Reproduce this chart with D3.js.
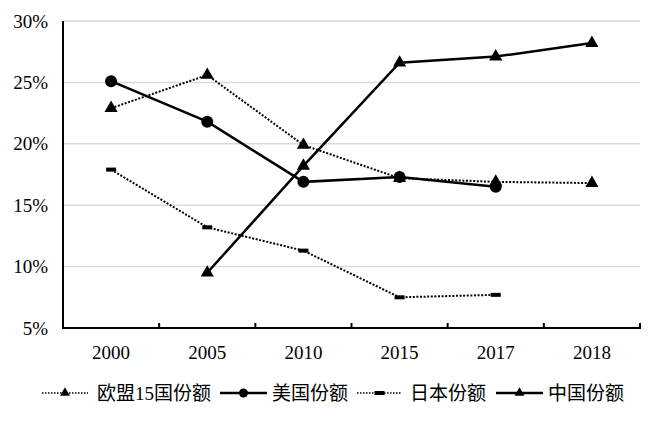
<!DOCTYPE html>
<html><head><meta charset="utf-8">
<script src="https://cdn.jsdelivr.net/npm/d3@7"></script>
<style>body{margin:0;background:#fff}svg{display:block}</style>
</head><body>
<svg id="c" width="660" height="423"></svg>
<script>
const categories = ["2000","2005","2010","2015","2017","2018"];
const yTicks = [0.05,0.10,0.15,0.20,0.25,0.30];
const eu15 = [22.9, 25.6, 19.9, 17.2, 16.9, 16.8];
const usa = [25.1, 21.8, 16.9, 17.3, 16.5, null];
const japan = [17.9, 13.2, 11.3, 7.5, 7.7, null];
const china = [null, 9.5, 18.2, 26.6, 27.1, 28.2];
const seriesNames = ["欧盟15国份额","美国份额","日本份额","中国份额"];

const series = [
  {name: seriesNames[0], values: eu15, dash: "2,1.6", width: 2, marker: "tri"},
  {name: seriesNames[1], values: usa, dash: null, width: 2.5, marker: "circle"},
  {name: seriesNames[2], values: japan, dash: "2,1.6", width: 2, marker: "dash"},
  {name: seriesNames[3], values: china, dash: null, width: 2.5, marker: "tri"}
];

const svg = d3.select("#c");
const L = 63, R = 640, T = 21, B = 328;
const x = d3.scaleBand().domain(categories).range([L, R]);
const y = d3.scaleLinear().domain([0.05, 0.30]).range([B, T]);

// gridlines
svg.append("g").selectAll("line").data(yTicks.slice(1)).join("line")
  .attr("x1", L).attr("x2", R)
  .attr("y1", d => y(d)).attr("y2", d => y(d))
  .attr("stroke", "#d9d9d9").attr("stroke-width", 1.5);

// y labels
svg.append("g").selectAll("text").data(yTicks).join("text")
  .attr("x", 48).attr("y", d => y(d))
  .attr("dy", "0.35em").attr("text-anchor", "end")
  .attr("font-family", "Liberation Serif").attr("font-size", 19)
  .attr("fill", "#000")
  .text(d => d3.format(".0%")(d));

// x axis
const xAxis = d3.axisBottom(x).tickSize(0).tickFormat(d => d);
const gx = svg.append("g").attr("transform", `translate(0,${B})`).call(xAxis);
gx.select(".domain").remove();
gx.selectAll("text").attr("font-family", "Liberation Serif").attr("font-size", 19)
  .attr("fill", "#000").attr("y", 31).attr("dy", "0");
// bottom tick marks between categories (pointing up)
const bounds = categories.map(c => x(c) + x.bandwidth());
svg.append("g").selectAll("line").data(bounds).join("line")
  .attr("x1", d => d).attr("x2", d => d).attr("y1", B).attr("y2", B - 5)
  .attr("stroke", "#000").attr("stroke-width", 2);
// axes lines
svg.append("line").attr("x1", L).attr("x2", L).attr("y1", T).attr("y2", B + 1)
  .attr("stroke", "#000").attr("stroke-width", 2);
svg.append("line").attr("x1", L - 1).attr("x2", R + 1).attr("y1", B).attr("y2", B)
  .attr("stroke", "#000").attr("stroke-width", 2);

const cx = c => x(c) + x.bandwidth() / 2;
function drawMarker(g, type, px, py, k) {
  k = k || 1;
  if (type === "tri") {
    g.append("path").attr("d", d3.symbol().type(d3.symbolTriangle).size(75 * k * k)())
      .attr("transform", `translate(${px},${py})`).attr("fill", "#000");
  } else if (type === "circle") {
    g.append("circle").attr("cx", px).attr("cy", py).attr("r", 6 * k).attr("fill", "#000");
  } else {
    g.append("rect").attr("x", px - 5).attr("y", py - 2).attr("width", 10).attr("height", 4).attr("fill", "#000");
  }
}

const line = d3.line().defined(d => d.v != null).x(d => cx(d.c)).y(d => y(d.v / 100));
series.forEach(s => {
  const pts = categories.map((c, i) => ({c, v: s.values[i]}));
  const g = svg.append("g");
  g.append("path").datum(pts).attr("d", line).attr("fill", "none")
    .attr("stroke", "#000").attr("stroke-width", s.width)
    .attr("stroke-dasharray", s.dash);
  pts.filter(p => p.v != null).forEach(p => drawMarker(g, s.marker, cx(p.c), y(p.v / 100)));
});

// legend
const legendItems = [
  {s: series[0], x1: 42, x2: 88, tx: 97},
  {s: series[1], x1: 220, x2: 267, tx: 272},
  {s: series[2], x1: 357, x2: 402, tx: 410},
  {s: series[3], x1: 496, x2: 543, tx: 548}
];
const ly = 393;
legendItems.forEach(it => {
  const g = svg.append("g");
  g.append("line").attr("x1", it.x1).attr("x2", it.x2).attr("y1", ly).attr("y2", ly)
    .attr("stroke", "#000").attr("stroke-width", it.s.dash ? 1.5 : 2.5)
    .attr("stroke-dasharray", it.s.dash ? "1.5,1.5" : null);
  drawMarker(g, it.s.marker, (it.x1 + it.x2) / 2, ly, 0.75);
  const t = g.append("text").attr("x", it.tx).attr("y", ly).attr("dy", "0.36em")
    .attr("font-family", "Noto Sans CJK SC").attr("font-size", 19).attr("fill", "#000");
  const m = it.s.name.match(/^(\D+)(\d+)(\D+)$/);
  if (m) {
    t.append("tspan").text(m[1]);
    t.append("tspan").attr("font-family", "Liberation Serif").text(m[2]);
    t.append("tspan").text(m[3]);
  } else {
    t.text(it.s.name);
  }
});
</script>
</body></html>
